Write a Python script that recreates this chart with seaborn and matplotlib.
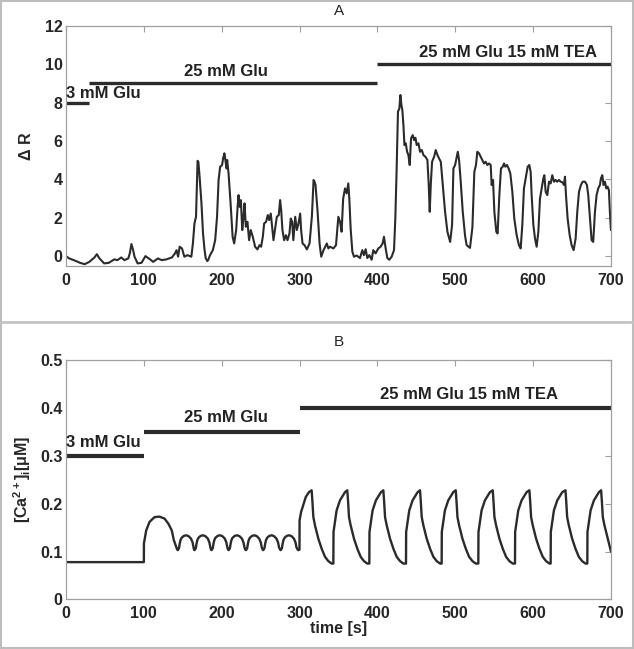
import numpy as np
import pandas as pd
import seaborn as sns
import matplotlib.pyplot as plt
from matplotlib.patches import Rectangle
from matplotlib.lines import Line2D

# %% data: panel A, measured ratio trace
a_t = [1, 4, 10, 18, 24, 30, 36.6, 39.6, 43, 49, 55, 62, 66, 71, 75, 80, 82, 84, 86, 88,
       92, 97, 102, 108, 112, 118, 123, 129, 136, 140, 142, 144, 146, 149, 152, 156, 161, 163, 165, 167,
       169, 170, 171.6, 174, 176, 178, 179.5, 181.6, 183, 185, 188.6, 191.6, 194, 196, 198, 200.5, 201.8, 203.5, 205, 206.2,
       207, 208.8, 211.4, 214, 216, 218.6, 220.4, 221.6, 222.9, 224.6, 226.4, 228, 229.3, 231, 233, 235.2, 237.3, 239.9, 242.9, 245.9,
       248.5, 250.6, 252.8, 254.5, 257, 259.2, 260.9, 263, 264.8, 266.5, 268.6, 270.8, 273.3, 275, 276.4, 278, 280.2, 282.4, 284.5, 287,
       288.7, 290.5, 292, 294.4, 296.5, 298.6, 300.8, 302, 303.8, 306.4, 309.4, 312.8, 315.8, 318, 319.2, 320.5, 323, 325.7, 327.8, 330.8,
       333, 335, 337, 339, 343.4, 346.8, 349.8, 352, 354, 356, 358.4, 360.5, 362.6, 363.9, 365.6, 367.8, 369.9, 373.3, 377.6, 380.6,
       382.7, 384.9, 387, 389.6, 392.6, 394.7, 397.7, 401.1, 404.1, 406.7, 408.4, 410.6, 412.7, 415.3, 418.3, 421.3, 423, 424.7, 426.4, 428.2,
       429.5, 430.8, 432, 433.4, 434.7, 436.4, 438.1, 439.8, 441.5, 443.2, 445.4, 447.1, 448.8, 450.5, 452.7, 454.8, 457, 459.1, 461.7, 464.2,
       465.9, 467.2, 468.5, 470.2, 472.8, 474.9, 477.1, 479.2, 481.4, 483.9, 486.9, 489.9, 493.4, 495.9, 497.6, 499.8, 501.9, 503.2, 504.9, 507,
       509.6, 512.6, 514.6, 518.9, 522, 524.5, 526.6, 528.3, 530.5, 532.6, 534.7, 536.9, 539, 541.2, 543.3, 545.5, 546.7, 548.5, 550.2, 552.7,
       554.4, 556.6, 558.7, 560.9, 562.6, 564.3, 566.4, 568.5, 570.7, 573.3, 575.8, 578.8, 581.8, 584, 586.1, 588.2, 590.4, 593, 595.1, 596.8,
       598.1, 600.3, 602.4, 604.5, 606.7, 608.8, 611, 613.1, 614.4, 616.1, 618.2, 620.4, 622.5, 624.6, 626.8, 628.9, 631, 633.2, 635.3, 637.5,
       639.6, 640.9, 642.2, 644.3, 646.9, 649.4, 652, 654.6, 656.7, 658.9, 661.4, 663.6, 666.6, 669.1, 670.8, 673, 675.1, 677.2, 679.4, 681.5,
       683.6, 685.8, 687.1, 688.8, 690.5, 692.2, 693.9, 695.6, 697.3, 698.6, 699.9]
a_v = [-0.03, -0.12, -0.21, -0.35, -0.42, -0.30, -0.07, 0.10, -0.12, -0.38, -0.35, -0.17, -0.21, -0.07, -0.21, -0.12, 0.15, 0.63, 0.35, -0.03,
       -0.38, -0.35, 0.00, -0.17, -0.30, -0.12, -0.21, -0.17, -0.07, 0.14, 0.31, -0.03, 0.49, 0.40, -0.03, 0.05, -0.03, 0.66, 1.70, 2.05,
       4.97, 4.92, 4.14, 2.75, 1.18, 0.31, -0.12, -0.26, -0.17, 0.05, 0.31, 0.83, 2.05, 3.97, 4.66, 4.75, 5.10, 5.36, 4.92, 4.57,
       5.01, 4.31, 2.75, 1.01, 0.66, 1.36, 2.57, 3.18, 2.57, 2.92, 1.36, 2.05, 2.75, 1.53, 1.79, 0.83, 1.36, 1.01, 0.49, 0.35,
       0.57, 0.49, 1.01, 1.70, 1.79, 2.14, 1.88, 2.22, 1.53, 0.83, 1.44, 2.05, 2.14, 2.92, 2.40, 1.36, 0.83, 1.09, 0.83, 1.18,
       1.96, 1.79, 0.83, 2.05, 1.36, 1.70, 2.22, 1.36, 0.66, 0.57, 0.35, 0.66, 2.05, 3.97, 3.88, 3.71, 2.40, 0.66, -0.03, 0.31,
       0.49, 0.66, 0.40, 0.49, 0.40, 0.57, 2.05, 1.79, 1.27, 3.00, 3.53, 3.27, 3.79, 3.00, 1.44, 0.23, -0.03, 0.03, -0.10, 0.31,
       0.05, 0.36, -0.10, 0.05, -0.19, 0.31, 0.14, 0.40, 0.49, 0.66, 1.01, 0.40, -0.10, -0.19, -0.03, 0.31, 1.96, 4.57, 7.53, 7.70,
       8.40, 7.88, 7.62, 6.83, 5.79, 5.88, 5.44, 5.27, 4.75, 6.14, 6.31, 6.05, 6.17, 5.79, 5.88, 5.44, 5.53, 5.27, 5.18, 5.01,
       3.71, 2.31, 3.71, 4.92, 5.18, 5.53, 5.27, 5.09, 4.92, 3.71, 2.31, 1.27, 0.74, 1.62, 4.57, 4.75, 5.18, 5.44, 5.01, 3.88,
       2.31, 1.05, 0.57, 0.43, 1.50, 4.40, 4.75, 5.44, 5.36, 5.18, 5.01, 4.83, 4.92, 4.75, 4.83, 4.75, 3.71, 3.97, 2.31, 1.27,
       1.18, 3.18, 4.57, 4.66, 4.83, 4.66, 4.75, 4.57, 4.31, 3.35, 1.96, 1.10, 0.57, 0.40, 1.62, 3.53, 4.05, 4.66, 4.75, 4.40,
       3.18, 1.62, 0.92, 0.49, 1.27, 3.00, 3.53, 4.05, 4.22, 3.35, 3.18, 3.88, 3.79, 4.22, 3.88, 3.97, 3.88, 3.97, 3.88, 3.85,
       3.71, 4.14, 3.18, 1.96, 1.10, 0.57, 0.31, 0.92, 2.31, 3.35, 3.71, 3.88, 3.88, 3.71, 3.18, 1.96, 0.83, 0.74, 2.31, 3.18,
       3.53, 3.71, 4.05, 4.22, 3.71, 3.88, 3.53, 3.62, 3.44, 2.31, 1.36]

# %% data: panel B, model calcium trace
b_t = [0, 100, 100.1, 103, 107.3, 113.7, 120, 126.5, 131.6, 135.9, 138.5, 141.5, 142.6,
       143.6, 145.1, 146.1, 147.1, 148.6, 151.6, 154.6, 157.6, 160.6, 162.6, 163.8, 164.4,
       165.2, 166.7, 167.7, 168.7, 170.2, 173.2, 176.2, 179.2, 182.2, 184.2, 185.4, 186.2,
       187, 188.5, 189.5, 190.5, 192, 195, 198, 201, 204, 206, 207.2, 208.2,
       209, 210.5, 211.5, 212.5, 214, 217, 220, 223, 226, 228, 229.2, 230.4,
       231.2, 232.7, 233.7, 234.7, 236.2, 239.2, 242.2, 245.2, 248.2, 250.2, 251.4, 252.6,
       253.4, 254.9, 255.9, 256.9, 258.4, 261.4, 264.4, 267.4, 270.4, 272.4, 273.6, 275,
       275.8, 277.3, 278.3, 279.3, 280.8, 283.8, 286.8, 289.8, 292.8, 294.8, 296, 297.6,
       298.5, 299.9, 300, 302, 308, 312,
       315.5, 316.5, 317.7, 319.8, 324.1, 328.4, 332.7, 337, 341.2, 343.4, 343.6, 347.6, 351.9, 358.3,
       361.3, 362.3, 363.5, 365.6, 369.9, 374.2, 378.5, 382.8, 387, 389.6, 389.8, 393.8, 398.1, 404.5,
       407.6, 408.6, 409.8, 411.9, 416.2, 420.5, 424.8, 429.1, 433.3, 436.7, 436.9, 440.9, 445.2, 451.6,
       454.7, 455.7, 456.9, 459, 463.3, 467.6, 471.9, 476.2, 480.4, 482.5, 482.7, 486.7, 491, 497.4,
       500.6, 501.6, 502.8, 504.9, 509.2, 513.5, 517.8, 522.1, 526.3, 529.6, 529.8, 533.8, 538.1, 544.5,
       548.1, 549.1, 550.3, 552.4, 556.7, 561, 565.3, 569.6, 573.8, 576.7, 576.9, 580.9, 585.2, 591.6,
       595.2, 596.2, 597.4, 599.5, 603.8, 608.1, 612.4, 616.7, 620.9, 622.5, 622.7, 626.7, 631, 637.4,
       641.5, 642.5, 643.7, 645.8, 650.1, 654.4, 658.7, 663, 667.2, 669.6, 669.8, 673.8, 678.1, 684.5,
       687.3, 688.3, 689.5, 691.6, 695.9, 700]
b_v = [0.078, 0.078, 0.117, 0.144, 0.162, 0.172, 0.173, 0.169, 0.158, 0.144, 0.124, 0.110, 0.105,
       0.103, 0.107, 0.117, 0.124, 0.129, 0.133, 0.134, 0.132, 0.127, 0.119, 0.109, 0.104,
       0.103, 0.107, 0.117, 0.124, 0.129, 0.133, 0.134, 0.132, 0.127, 0.119, 0.109, 0.104,
       0.103, 0.107, 0.117, 0.124, 0.129, 0.133, 0.134, 0.132, 0.127, 0.119, 0.109, 0.104,
       0.103, 0.107, 0.117, 0.124, 0.129, 0.133, 0.134, 0.132, 0.127, 0.119, 0.109, 0.104,
       0.103, 0.107, 0.117, 0.124, 0.129, 0.133, 0.134, 0.132, 0.127, 0.119, 0.109, 0.104,
       0.103, 0.107, 0.117, 0.124, 0.129, 0.133, 0.134, 0.132, 0.127, 0.119, 0.109, 0.104,
       0.103, 0.107, 0.117, 0.124, 0.129, 0.133, 0.134, 0.132, 0.127, 0.119, 0.109, 0.104,
       0.103, 0.104, 0.165, 0.183, 0.214, 0.224,
       0.228, 0.205, 0.172, 0.155, 0.127, 0.106, 0.089, 0.080, 0.075, 0.075, 0.141, 0.186, 0.207, 0.224,
       0.228, 0.205, 0.172, 0.155, 0.127, 0.106, 0.089, 0.080, 0.075, 0.075, 0.141, 0.186, 0.207, 0.224,
       0.228, 0.205, 0.172, 0.155, 0.127, 0.106, 0.089, 0.080, 0.075, 0.075, 0.141, 0.186, 0.207, 0.224,
       0.228, 0.205, 0.172, 0.155, 0.127, 0.106, 0.089, 0.080, 0.075, 0.075, 0.141, 0.186, 0.207, 0.224,
       0.228, 0.205, 0.172, 0.155, 0.127, 0.106, 0.089, 0.080, 0.075, 0.075, 0.141, 0.186, 0.207, 0.224,
       0.228, 0.205, 0.172, 0.155, 0.127, 0.106, 0.089, 0.080, 0.075, 0.075, 0.141, 0.186, 0.207, 0.224,
       0.228, 0.205, 0.172, 0.155, 0.127, 0.106, 0.089, 0.080, 0.075, 0.075, 0.141, 0.186, 0.207, 0.224,
       0.228, 0.205, 0.172, 0.155, 0.127, 0.106, 0.089, 0.080, 0.075, 0.075, 0.141, 0.186, 0.207, 0.224,
       0.228, 0.205, 0.172, 0.155, 0.127, 0.100]

# %% stimulus bars: (start, end, level), labels and label anchors
a_bars = [(0, 30, 8), (30, 400, 9), (400, 700, 10)]
b_bars = [(0, 100, 0.30), (100, 300, 0.35), (300, 700, 0.40)]
bar_labels = ['3 mM Glu', '25 mM Glu', '25 mM Glu 15 mM TEA']
a_label_pos = [(0.5, 8.1), (206, 9.25), (568, 10.25)]
b_label_pos = [(0.5, 0.312), (205, 0.365), (518, 0.413)]

x_ticks = [0, 100, 200, 300, 400, 500, 600, 700]
a_yticks = [0, 2, 4, 6, 8, 10, 12]
b_yticks = [0, 0.1, 0.2, 0.3, 0.4, 0.5]
b_yticklabels = ['0', '0.1', '0.2', '0.3', '0.4', '0.5']

# %% style
sns.set_style('white')
plt.rcParams['font.family'] = ['Liberation Sans', 'DejaVu Sans']
plt.rcParams['mathtext.fontset'] = 'custom'
plt.rcParams['mathtext.rm'] = 'Liberation Sans:bold'
plt.rcParams['mathtext.it'] = 'Liberation Sans:bold'
plt.rcParams['mathtext.bf'] = 'Liberation Sans:bold'
plt.rcParams['mathtext.default'] = 'bf'

FS_TICK = 11.5
FS_TXT = 12
LINE = '#2b2b2b'
GRID = '#a0a0a0'

fig = plt.figure(figsize=(6.34, 6.49), dpi=100)
axA = fig.add_axes([0.1041, 0.5906, 0.8596, 0.3694])
axB = fig.add_axes([0.1041, 0.0763, 0.8596, 0.3690])

dfA = pd.DataFrame({'t': a_t, 'v': a_v})
dfB = pd.DataFrame({'t': b_t, 'v': b_v})
sns.lineplot(data=dfA, x='t', y='v', ax=axA, color=LINE, lw=1.5, estimator=None, sort=False)
sns.lineplot(data=dfB, x='t', y='v', ax=axB, color=LINE, lw=1.7, estimator=None, sort=False)

for (x0, x1, lev), lab, (tx, ty) in zip(a_bars, bar_labels, a_label_pos):
    axA.plot([x0, x1], [lev, lev], color=LINE, lw=2.4, solid_capstyle='butt')
    axA.text(tx, ty, lab, ha='left' if tx < 10 else 'center', va='bottom',
             fontsize=FS_TXT, fontweight='bold', color='#222')
for (x0, x1, lev), lab, (tx, ty) in zip(b_bars, bar_labels, b_label_pos):
    axB.plot([x0, x1], [lev, lev], color=LINE, lw=3, solid_capstyle='butt')
    axB.text(tx, ty, lab, ha='left' if tx < 10 else 'center', va='bottom',
             fontsize=FS_TXT, fontweight='bold', color='#222')

for ax in (axA, axB):
    ax.set_xlim(0, 700)
    ax.set_xticks(x_ticks)
    ax.tick_params(direction='in', length=4, width=0.8, color=GRID,
                   top=True, right=True, labelsize=FS_TICK, pad=5)
    ax.tick_params(axis='y', pad=2.5)
    for s in ax.spines.values():
        s.set_color(GRID)
        s.set_linewidth(0.9)
    ax.set_xlabel('')
    ax.set_xticklabels([str(v) for v in x_ticks], fontweight='bold')

axA.set_ylim(-0.5, 12)
axA.set_yticks(a_yticks)
axA.set_yticklabels([str(v) for v in a_yticks], fontweight='bold')
axA.set_ylabel('Δ R', fontsize=11.5, fontweight='bold', labelpad=8)

axB.set_ylim(0, 0.5)
axB.set_yticks(b_yticks)
axB.set_yticklabels(b_yticklabels, fontweight='bold')
axB.set_ylabel('[Ca$^{2+}$]$_i$[μM]', fontsize=11.5, fontweight='bold', labelpad=5)
axB.set_xlabel('time [s]', fontsize=11.5, fontweight='bold', labelpad=0)

fig.text(0.534, 0.983, 'A', ha='center', va='center', fontsize=11)
fig.text(0.534, 0.4735, 'B', ha='center', va='center', fontsize=11)

# frames around the two panels
fig.patches.append(Rectangle((0.0015, 0.0015), 0.997, 0.997, transform=fig.transFigure,
                             fill=False, edgecolor='#bdbdbd', lw=1.5))
fig.lines.append(Line2D([0, 1], [0.5046, 0.5046], transform=fig.transFigure,
                        color='#c4c4c4', lw=2))

fig.savefig('out.png', dpi=100)
